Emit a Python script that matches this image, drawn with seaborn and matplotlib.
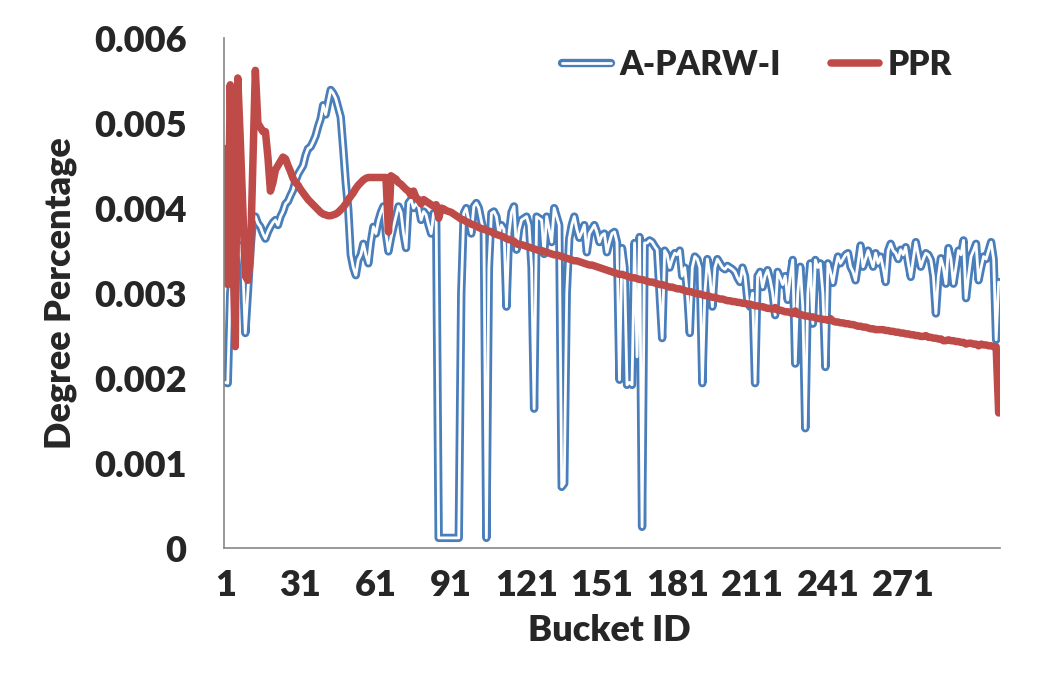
import numpy as np
import pandas as pd
import matplotlib
matplotlib.use('Agg')
import matplotlib.pyplot as plt
import matplotlib.patheffects as pe
import seaborn as sns

# values, in units of 1e-5 (one value per bucket)
A_PARW_I = [
    195, 194, 300, 330, 320, 340, 356, 330, 253, 300,
    350, 385, 390, 382, 378, 370, 364, 372, 378, 383,
    386, 380, 390, 396, 405, 408, 415, 421, 432, 440,
    445, 450, 462, 470, 472, 478, 485, 496, 505, 521,
    510, 525, 539, 535, 529, 518, 507, 470, 430, 398,
    345, 330, 321, 339, 345, 358, 345, 335, 360, 378,
    370, 385, 395, 402, 370, 349, 365, 378, 390, 402,
    395, 370, 353, 406, 410, 400, 405, 402, 386, 396,
    392, 380, 370, 394, 390, 12, 12, 12, 12, 12,
    12, 12, 12, 12, 300, 394, 400, 385, 370, 402,
    406, 400, 385, 372, 12, 330, 394, 396, 390, 370,
    380, 375, 284, 370, 395, 402, 351, 375, 386, 388,
    390, 380, 330, 164, 390, 388, 386, 346, 390, 375,
    360, 400, 390, 380, 72, 76, 300, 364, 380, 390,
    375, 365, 372, 380, 348, 370, 375, 380, 372, 360,
    368, 370, 348, 360, 370, 372, 360, 198, 353, 330,
    192, 195, 192, 359, 225, 366, 25, 359, 359, 362,
    360, 355, 351, 300, 247, 350, 345, 330, 340, 347,
    345, 350, 320, 330, 300, 253, 330, 343, 340, 330,
    194, 300, 340, 320, 284, 330, 340, 335, 330, 328,
    332, 330, 328, 325, 318, 313, 330, 320, 290, 284,
    300, 194, 320, 325, 307, 320, 327, 316, 300, 274,
    325, 318, 310, 320, 292, 320, 339, 217, 300, 331,
    284, 141, 300, 335, 264, 339, 330, 335, 300, 213,
    335, 325, 312, 330, 343, 335, 340, 345, 347, 331,
    325, 315, 335, 356, 331, 340, 350, 340, 331, 347,
    335, 343, 330, 313, 350, 358, 350, 347, 340, 351,
    345, 354, 335, 319, 340, 360, 345, 331, 340, 347,
    345, 339, 320, 276, 320, 341, 330, 311, 353, 340,
    311, 330, 350, 345, 362, 294, 320, 343, 350, 358,
    315, 330, 343, 340, 350, 360, 340, 245, 313,
]

PPR = [
    470, 310, 545, 360, 237, 553, 480, 400, 320, 315,
    340, 450, 562, 500, 495, 490, 490, 460, 420, 430,
    445, 450, 455, 460, 458, 450, 443, 435, 430, 427,
    422, 418, 414, 410, 407, 404, 401, 398, 395, 393,
    392, 391, 391, 392, 393, 395, 398, 401, 405, 410,
    414, 418, 423, 427, 430, 433, 435, 436, 436, 436,
    436, 436, 436, 436, 436, 372, 438, 436, 434, 430,
    428, 425, 422, 420, 415, 420, 412, 410, 405, 410,
    408, 406, 404, 402, 404, 388, 400, 399, 397, 396,
    395, 393, 391, 389, 387, 386, 384, 383, 381, 380,
    379, 377, 376, 375, 374, 373, 372, 370, 369, 368,
    367, 366, 364, 363, 362, 361, 358, 357, 357, 356,
    355, 354, 353, 352, 351, 350, 350, 349, 348, 347,
    346, 345, 345, 344, 343, 342, 341, 340, 339, 338,
    338, 337, 336, 335, 334, 333, 333, 332, 331, 330,
    329, 328, 327, 326, 325, 324, 323, 322, 322, 321,
    320, 319, 318, 318, 317, 316, 316, 315, 314, 313,
    313, 312, 311, 310, 310, 309, 308, 307, 307, 306,
    305, 305, 304, 303, 302, 302, 301, 300, 299, 299,
    298, 297, 297, 296, 295, 295, 294, 293, 293, 292,
    291, 291, 290, 290, 289, 289, 288, 288, 287, 287,
    286, 285, 285, 284, 284, 283, 282, 282, 281, 283,
    280, 280, 279, 278, 278, 277, 276, 279, 275, 275,
    274, 273, 273, 272, 272, 271, 270, 270, 269, 269,
    268, 270, 267, 266, 266, 265, 265, 264, 264, 263,
    263, 262, 261, 261, 260, 260, 259, 258, 258, 257,
    257, 257, 257, 256, 256, 255, 255, 254, 254, 253,
    253, 252, 252, 251, 251, 250, 250, 249, 249, 250,
    248, 248, 247, 247, 246, 246, 244, 244, 245, 244,
    244, 243, 243, 242, 242, 240, 241, 241, 240, 240,
    238, 240, 239, 239, 238, 238, 237, 237, 159,
]

X_TICKS = [1, 31, 61, 91, 121, 151, 181, 211, 241, 271]
Y_TICKS = [0, 0.001, 0.002, 0.003, 0.004, 0.005, 0.006]
Y_TICK_LABELS = ['0', '0.001', '0.002', '0.003', '0.004', '0.005', '0.006']

BLUE = '#4a7ebb'
RED = '#be4b48'

assert len(A_PARW_I) == len(PPR)
df = pd.DataFrame({
    'bucket': np.arange(1, len(PPR) + 1),
    'A-PARW-I': np.array(A_PARW_I) / 1e5,
    'PPR': np.array(PPR) / 1e5,
})

sns.set_style('white')
plt.rcParams['font.family'] = ['Lato', 'DejaVu Sans']
plt.rcParams['font.weight'] = 'heavy'

fig = plt.figure(figsize=(10.5, 6.75), dpi=100)
ax = fig.add_axes([0.2133, 0.188, 0.7390, 0.7556])

# blue series drawn as an Excel-like double line (blue stroke, white core)
sns.lineplot(data=df, x='bucket', y='A-PARW-I', ax=ax, color='white', linewidth=2.0,
             label='A-PARW-I',
             path_effects=[pe.Stroke(linewidth=6.0, foreground=BLUE), pe.Normal()])
sns.lineplot(data=df, x='bucket', y='PPR', ax=ax, color=RED, linewidth=5.4, label='PPR')

ax.set_xlim(0.5, len(PPR) + 0.5)
ax.set_ylim(0, 0.006)
ax.set_xticks(X_TICKS)
ax.set_xticklabels([str(t) for t in X_TICKS])
ax.set_yticks(Y_TICKS)
ax.set_yticklabels(Y_TICK_LABELS)
ax.tick_params(axis='both', length=0, labelsize=26)
ax.tick_params(axis='y', pad=27)
ax.tick_params(axis='x', pad=15)

for side in ['top', 'right']:
    ax.spines[side].set_visible(False)
for side in ['left', 'bottom']:
    ax.spines[side].set_color('#868686')
    ax.spines[side].set_linewidth(1.2)

ax.set_xlabel('Bucket ID', fontsize=26, fontweight='heavy')
ax.set_ylabel('Degree Percentage', fontsize=26, fontweight='heavy')
ax.xaxis.set_label_coords(0.497, -0.13)
ax.yaxis.set_label_coords(-0.19, 0.5)

ax.legend(loc='upper right', bbox_to_anchor=(0.955, 1.005), ncol=2, frameon=False,
          handlelength=1.45, columnspacing=1.5, borderaxespad=0,
          handletextpad=0.25, prop={'weight': 'heavy', 'size': 24})

fig.savefig('out.png', dpi=100)
